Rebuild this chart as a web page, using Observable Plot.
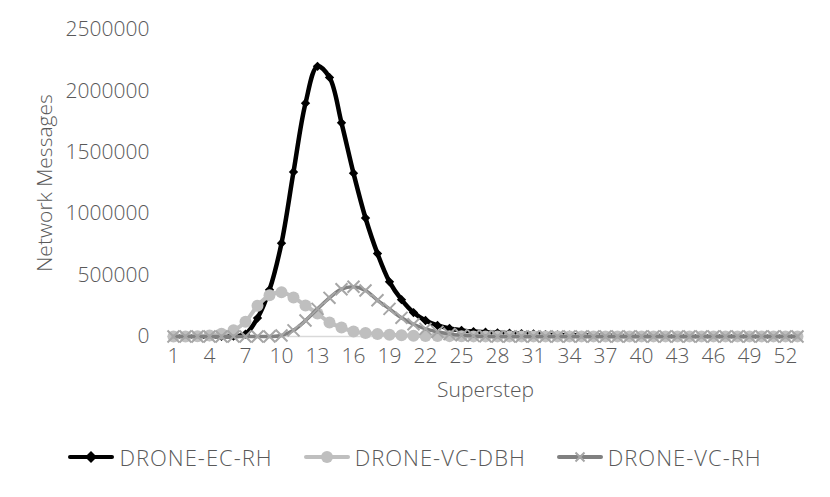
<!DOCTYPE html>
<html>
<head>
<meta charset="utf-8">
<script src="https://cdn.jsdelivr.net/npm/d3@7"></script>
<script src="https://cdn.jsdelivr.net/npm/@observablehq/plot@0.6"></script>
<style>
  html, body { margin: 0; padding: 0; background: #fff; }
  #wrap { width: 830px; height: 497px; font-family: "Open Sans", "Noto Sans", sans-serif; font-weight: 300; color: #595959; }
  #legend { display: flex; justify-content: center; align-items: center; gap: 31px; margin-top: 22px; font-size: 22px; line-height: 30px; letter-spacing: 1px; }
  .item { display: flex; align-items: center; }
  .item svg { margin-right: 5px; }
</style>
</head>
<body>
<div id="wrap"></div>
<script>
const steps = [1,2,3,4,5,6,7,8,9,10,11,12,13,14,15,16,17,18,19,20,21,22,23,24,25,26,27,28,29,30,31,32,33,34,35,36,37,38,39,40,41,42,43,44,45,46,47,48,49,50,51,52,53];
const ecRH = [0,0,0,0,2000,3000,20000,150000,380000,760000,1340000,1900000,2200000,2110000,1740000,1330000,965000,675000,445000,300000,195000,130000,90000,65000,50000,40000,35000,30000,27000,24000,22000,15000,12000,10000,8000,7000,6000,5000,5000,4000,4000,3000,3000,3000,2000,2000,2000,2000,1000,1000,1000,1000,1000];
const vcDBH = [0,0,2000,8000,22000,50000,120000,250000,335000,360000,318000,252000,187000,114000,73000,40000,28000,20000,14000,10000,7000,5000,4000,3000,2000,1000,1000,1000,1000,1000,1000,1000,1000,1000,1000,1000,1000,1000,1000,1000,1000,1000,1000,1000,1000,1000,1000,1000,1000,1000,1000,1000,1000];
const vcRH = [0,0,0,0,0,0,0,0,0,8000,50000,130000,225000,315000,385000,405000,375000,295000,225000,152000,100000,62000,38000,20000,10000,5000,2000,0,0,0,0,0,0,0,0,0,0,0,0,0,0,0,0,0,0,0,0,0,0,0,0,0,0];
const xTicks = [1,4,7,10,13,16,19,22,25,28,31,34,37,40,43,46,49,52];
const yTicks = [0,500000,1000000,1500000,2000000,2500000];
const seriesNames = ["DRONE-EC-RH", "DRONE-VC-DBH", "DRONE-VC-RH"];

const ec = steps.map((s, i) => ({step: s, value: ecRH[i]}));
const dbh = steps.map((s, i) => ({step: s, value: vcDBH[i]}));
const rh = steps.map((s, i) => ({step: s, value: vcRH[i]}));

const plot = Plot.plot({
  width: 830,
  height: 420,
  marginTop: 29,
  marginBottom: 84,
  marginLeft: 167,
  marginRight: 27,
  style: {fontFamily: "'Open Sans', 'Noto Sans', sans-serif", fontSize: "21px", color: "#595959", background: "#fff", fontWeight: 300},
  x: {domain: [0.5, 53.5]},
  y: {domain: [0, 2500000]},
  marks: [
    Plot.ruleY([0], {stroke: "#d9d9d9", strokeWidth: 1.5}),
    Plot.axisY({ticks: yTicks, tickFormat: d => String(d), tickSize: 0, tickPadding: 18, label: "Network Messages", labelAnchor: "center", labelOffset: 130, labelArrow: "none"}),
    Plot.axisX({ticks: xTicks, tickFormat: d => String(d), tickSize: 0, tickPadding: 12, label: "Superstep", labelAnchor: "center", labelOffset: 60, labelArrow: "none"}),
    Plot.line(ec, {x: "step", y: "value", stroke: "#000", strokeWidth: 4.5, curve: "catmull-rom"}),
    Plot.dot(ec, {x: "step", y: "value", symbol: "diamond2", r: 4.2, fill: "#000", stroke: "none"}),
    Plot.line(dbh, {x: "step", y: "value", stroke: "#bfbfbf", strokeWidth: 4, curve: "catmull-rom"}),
    Plot.dot(dbh, {x: "step", y: "value", r: 6, fill: "#bfbfbf", stroke: "none"}),
    Plot.line(rh, {x: "step", y: "value", stroke: "#808080", strokeWidth: 3.5, curve: "catmull-rom"}),
    Plot.dot(rh, {x: "step", y: "value", symbol: "times", r: 5.5, stroke: "#a6a6a6", strokeWidth: 2})
  ]
});
const wrap = document.getElementById("wrap");
wrap.appendChild(plot);

// legend
const legend = document.createElement("div");
legend.id = "legend";
const swatches = [
  {line: "#000", marker: '<path d="M23,4 L29,10 L23,16 L17,10 Z" fill="#000"/>'},
  {line: "#bfbfbf", marker: '<circle cx="23" cy="10" r="6" fill="#bfbfbf"/>'},
  {line: "#808080", marker: '<path d="M18.5,5.5 L27.5,14.5 M27.5,5.5 L18.5,14.5" stroke="#a6a6a6" stroke-width="2"/>'}
];
seriesNames.forEach((name, i) => {
  const it = document.createElement("div");
  it.className = "item";
  it.innerHTML = `<svg width="46" height="20"><line x1="2" y1="10" x2="44" y2="10" stroke="${swatches[i].line}" stroke-width="4" stroke-linecap="round"/>${swatches[i].marker}</svg><span>${name}</span>`;
  legend.appendChild(it);
});
wrap.appendChild(legend);
</script>
</body>
</html>
